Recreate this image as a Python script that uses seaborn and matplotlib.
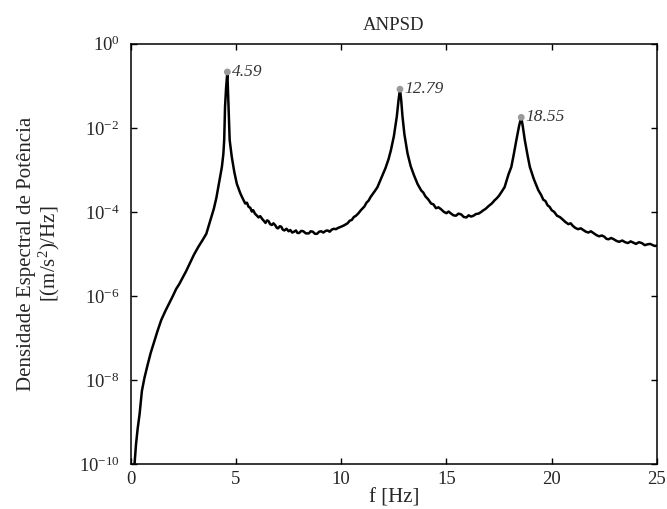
import numpy as np
import pandas as pd
import matplotlib
matplotlib.use("Agg")
import matplotlib.pyplot as plt
import seaborn as sns

# frequencies [Hz] and log10 of the ANPSD
freq = [0.18, 0.25, 0.33, 0.42, 0.53, 0.65, 0.81, 0.95, 1.13, 1.28,
        1.45, 1.65, 1.85, 2.00, 2.16, 2.30, 2.48, 2.62, 2.80, 3.00,
        3.20, 3.40, 3.59, 3.72, 3.83, 3.95, 4.07, 4.20, 4.33, 4.40,
        4.44, 4.48, 4.53, 4.59, 4.62, 4.66, 4.70, 4.80, 4.92, 5.04,
        5.20, 5.30, 5.44, 5.52, 5.60, 5.68, 5.75, 5.82, 5.90, 5.98,
        6.07, 6.15, 6.25, 6.32, 6.40, 6.48, 6.55, 6.62, 6.70, 6.78,
        6.87, 6.94, 7.00, 7.08, 7.15, 7.22, 7.30, 7.40, 7.50, 7.58,
        7.67, 7.76, 7.85, 7.92, 8.00, 8.10, 8.20, 8.32, 8.46, 8.55,
        8.65, 8.75, 8.85, 8.95, 9.05, 9.15, 9.26, 9.35, 9.45, 9.55,
        9.65, 9.75, 9.85, 10.00, 10.13, 10.30, 10.40, 10.50, 10.60, 10.70,
        10.82, 10.93, 11.10, 11.20, 11.30, 11.40, 11.50, 11.60, 11.72, 11.90,
        12.10, 12.25, 12.36, 12.50, 12.64, 12.72, 12.79, 12.85, 12.91, 13.00,
        13.15, 13.30, 13.45, 13.63, 13.80, 13.90, 14.00, 14.13, 14.27, 14.38,
        14.50, 14.62, 14.75, 14.88, 15.00, 15.10, 15.22, 15.33, 15.45, 15.57,
        15.70, 15.82, 15.95, 16.05, 16.17, 16.28, 16.40, 16.52, 16.65, 16.75,
        16.85, 17.00, 17.15, 17.29, 17.40, 17.50, 17.62, 17.76, 17.95, 18.08,
        18.20, 18.32, 18.45, 18.55, 18.62, 18.72, 18.85, 18.96, 19.15, 19.36,
        19.50, 19.60, 19.70, 19.80, 19.90, 20.00, 20.12, 20.25, 20.38, 20.50,
        20.65, 20.79, 20.90, 21.00, 21.12, 21.25, 21.38, 21.50, 21.62, 21.74,
        21.86, 22.00, 22.12, 22.25, 22.38, 22.50, 22.60, 22.70, 22.82, 22.95,
        23.08, 23.20, 23.35, 23.49, 23.62, 23.75, 23.88, 24.00, 24.14, 24.28,
        24.42, 24.55, 24.68, 24.80, 24.90, 25.00]
log_psd = [-10.0, -9.53, -9.15, -8.81, -8.26, -7.95, -7.62, -7.35, -7.06, -6.82,
           -6.57, -6.35, -6.15, -6.00, -5.83, -5.72, -5.55, -5.42, -5.23, -5.02,
           -4.84, -4.68, -4.52, -4.30, -4.12, -3.92, -3.66, -3.30, -2.93, -2.62,
           -2.29, -1.50, -1.05, -0.67, -1.10, -1.70, -2.29, -2.69, -3.05, -3.33,
           -3.55, -3.66, -3.80, -3.78, -3.88, -3.90, -3.99, -3.96, -4.04, -4.08,
           -4.13, -4.10, -4.17, -4.21, -4.26, -4.20, -4.22, -4.29, -4.31, -4.27,
           -4.32, -4.38, -4.39, -4.34, -4.35, -4.42, -4.44, -4.40, -4.46, -4.43,
           -4.49, -4.47, -4.44, -4.50, -4.50, -4.45, -4.46, -4.51, -4.51, -4.46,
           -4.47, -4.52, -4.52, -4.47, -4.46, -4.49, -4.45, -4.44, -4.47, -4.42,
           -4.40, -4.41, -4.38, -4.35, -4.32, -4.27, -4.21, -4.19, -4.12, -4.09,
           -4.03, -3.96, -3.87, -3.78, -3.73, -3.64, -3.57, -3.50, -3.41, -3.20,
           -2.96, -2.74, -2.53, -2.20, -1.73, -1.35, -1.08, -1.35, -1.73, -2.15,
           -2.61, -2.91, -3.12, -3.34, -3.49, -3.54, -3.63, -3.70, -3.80, -3.82,
           -3.91, -3.89, -3.94, -4.00, -4.03, -3.99, -4.04, -4.08, -4.09, -4.04,
           -4.06, -4.12, -4.13, -4.08, -4.11, -4.09, -4.05, -4.04, -4.00, -3.96,
           -3.93, -3.86, -3.80, -3.72, -3.67, -3.61, -3.52, -3.41, -3.10, -2.93,
           -2.62, -2.29, -1.95, -1.75, -1.95, -2.29, -2.65, -2.93, -3.22, -3.48,
           -3.60, -3.71, -3.74, -3.84, -3.88, -3.96, -4.00, -4.09, -4.12, -4.17,
           -4.24, -4.29, -4.27, -4.33, -4.38, -4.41, -4.39, -4.43, -4.47, -4.49,
           -4.46, -4.51, -4.55, -4.58, -4.56, -4.59, -4.64, -4.65, -4.62, -4.65,
           -4.69, -4.71, -4.68, -4.72, -4.74, -4.70, -4.73, -4.76, -4.72, -4.74,
           -4.79, -4.77, -4.76, -4.79, -4.81, -4.80]

# identified peaks
peak_freq = [4.59, 12.79, 18.55]
peak_log = [-0.67, -1.08, -1.75]
peak_labels = ["4.59", "12.79", "18.55"]

df = pd.DataFrame({"f": freq, "psd": np.power(10.0, log_psd)})
peaks = pd.DataFrame({"f": peak_freq, "psd": np.power(10.0, peak_log)})

sns.set_style("ticks")
plt.rcParams["font.family"] = ["Liberation Serif", "DejaVu Serif"]
plt.rcParams["mathtext.fontset"] = "custom"
plt.rcParams["mathtext.rm"] = "Liberation Serif"
plt.rcParams["mathtext.it"] = "Liberation Serif:italic"
plt.rcParams["axes.unicode_minus"] = False

fig = plt.figure(figsize=(6.67, 5.09), dpi=100)
ax = fig.add_axes([0.196, 0.088, 0.789, 0.826])

sns.lineplot(data=df, x="f", y="psd", ax=ax, color="black", linewidth=1.8)
sns.scatterplot(data=peaks, x="f", y="psd", ax=ax, color="#9a9a9a", s=24,
                edgecolor="none", zorder=3)
for fx, py, lab in zip(peak_freq, peaks["psd"], peak_labels):
    ax.text(fx + 0.2, py, lab, fontsize=12.5, fontstyle="italic",
            color="#333333", ha="left", va="center")

ax.set_yscale("log")
ax.set_xlim(0, 25)
ax.set_ylim(1e-10, 1e0)
ax.set_xticks([0, 5, 10, 15, 20, 25])
ax.set_yticks([1e0, 1e-2, 1e-4, 1e-6, 1e-8, 1e-10])
ax.yaxis.set_minor_locator(matplotlib.ticker.NullLocator())
ax.tick_params(direction="in", length=4, width=1, top=True, right=True,
               labelsize=13.5, color="black")
ax.tick_params(axis="y", pad=8)
ax.tick_params(axis="x", pad=5)
for sp in ax.spines.values():
    sp.set_visible(True)
    sp.set_linewidth(1.1)
    sp.set_color("black")

ax.set_title("ANPSD", fontsize=13.5, pad=10)
ax.set_xlabel("f [Hz]", fontsize=15, labelpad=0)
ax.set_ylabel("Densidade Espectral de Potência\n[(m/s$^2$)/Hz]", fontsize=15,
              labelpad=12, linespacing=1.05)

fig.savefig("out.png", dpi=100)
